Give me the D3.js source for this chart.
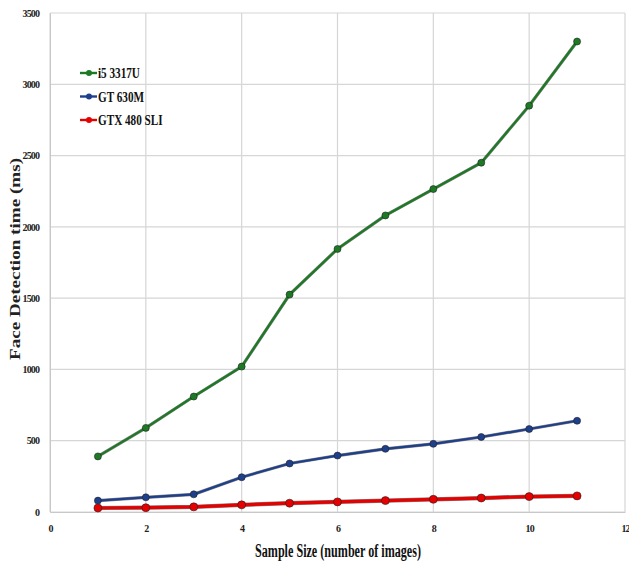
<!DOCTYPE html>
<html>
<head>
<meta charset="utf-8">
<script src="https://cdnjs.cloudflare.com/ajax/libs/d3/7.8.5/d3.min.js"></script>
<style>
  body { margin: 0; background: #fff; }
  text { font-family: "Liberation Serif", "Times New Roman", serif; }
</style>
</head>
<body>
<div id="chart"></div>
<script>
var svgWidth = 629;
var svgHeight = 563;

var margin = { top: 13, right: 4, bottom: 51, left: 50 };
var width = svgWidth - margin.left - margin.right;
var height = svgHeight - margin.top - margin.bottom;

// data
var sampleSizes = [1, 2, 3, 4, 5, 6, 7, 8, 9, 10, 11];
var i5Times = [390, 590, 810, 1020, 1525, 1845, 2080, 2265, 2450, 2850, 3300];
var gt630Times = [80, 103, 124, 244, 340, 396, 443, 478, 526, 582, 640];
var gtx480Times = [28, 30, 36, 50, 62, 71, 80, 89, 98, 108, 113];
var seriesNames = ["i5 3317U", "GT 630M", "GTX 480 SLI"];
var seriesColors = ["#1c7a24", "#1e3f8c", "#e60000"];
var xTicks = [0, 2, 4, 6, 8, 10, 12];
var yTicks = [0, 500, 1000, 1500, 2000, 2500, 3000, 3500];

var series = [i5Times, gt630Times, gtx480Times].map(function(vals, i) {
  return { name: seriesNames[i], color: seriesColors[i],
    points: vals.map(function(v, j) { return { x: sampleSizes[j], y: v }; }) };
});

var svg = d3.select("#chart").append("svg")
  .attr("width", svgWidth)
  .attr("height", svgHeight);

var chartGroup = svg.append("g")
  .attr("transform", `translate(${margin.left}, ${margin.top})`);

var xScale = d3.scaleLinear().domain([0, 12]).range([0, width]);
var yScale = d3.scaleLinear().domain([0, 3500]).range([height, 0]);

// grid
chartGroup.append("g")
  .selectAll("line").data(yTicks).enter().append("line")
  .attr("x1", 0).attr("x2", width)
  .attr("y1", d => yScale(d)).attr("y2", d => yScale(d))
  .attr("stroke", "#d6d6d6").attr("stroke-width", 1.2);

chartGroup.append("g")
  .selectAll("line").data(xTicks).enter().append("line")
  .attr("y1", 0).attr("y2", height)
  .attr("x1", d => xScale(d)).attr("x2", d => xScale(d))
  .attr("stroke", "#d6d6d6").attr("stroke-width", 1.2);

// axes
var bottomAxis = d3.axisBottom(xScale).tickValues(xTicks).tickFormat(d3.format("d")).tickSize(0).tickPadding(13);
var leftAxis = d3.axisLeft(yScale).tickValues(yTicks).tickFormat(d3.format("d")).tickSize(0).tickPadding(11);

var xAxisG = chartGroup.append("g")
  .attr("transform", `translate(0, ${height})`)
  .call(bottomAxis);
var yAxisG = chartGroup.append("g").call(leftAxis);

[xAxisG, yAxisG].forEach(function(g) {
  g.select(".domain").attr("stroke", "#c8c8c8");
  g.selectAll("text")
    .style("font-family", "'Liberation Serif', serif")
    .style("font-weight", "bold")
    .style("font-size", "10px")
    .style("letter-spacing", "-0.9px")
    .attr("fill", "#222");
});

// lines
var line = d3.line().x(d => xScale(d.x)).y(d => yScale(d.y));

series.forEach(function(s, i) {
  var w = i === 2 ? 3.2 : 2.2;
  chartGroup.append("path")
    .datum(s.points)
    .attr("fill", "none")
    .attr("stroke", "#1a1a1a")
    .attr("stroke-width", w + 1)
    .attr("opacity", 0.55)
    .attr("d", line);
  chartGroup.append("path")
    .datum(s.points)
    .attr("fill", "none")
    .attr("stroke", s.color)
    .attr("stroke-width", w)
    .attr("d", line);
  chartGroup.selectAll(null)
    .data(s.points)
    .enter()
    .append("circle")
    .attr("cx", d => xScale(d.x))
    .attr("cy", d => yScale(d.y))
    .attr("r", i === 2 ? 4 : 3.5)
    .attr("fill", s.color)
    .attr("stroke", "#222")
    .attr("stroke-width", 0.6);
});

// legend
var legend = svg.append("g").attr("transform", "translate(80, 73)");
series.forEach(function(s, i) {
  var g = legend.append("g").attr("transform", `translate(0, ${i * 23.5})`);
  g.append("line").attr("x1", 0).attr("x2", 17).attr("y1", 0).attr("y2", 0)
    .attr("stroke", s.color).attr("stroke-width", 2.4);
  g.append("circle").attr("cx", 9).attr("cy", 0).attr("r", 3).attr("fill", s.color);
  g.append("text")
    .attr("transform", "translate(18, 5) scale(0.8, 1)")
    .style("font-size", "14px").style("font-weight", "bold")
    .attr("fill", "#111")
    .text(s.name);
});

// axis titles
svg.append("text")
  .attr("transform", `translate(20, 259) rotate(-90)`)
  .attr("text-anchor", "middle")
  .attr("textLength", 202)
  .attr("lengthAdjust", "spacingAndGlyphs")
  .style("font-size", "15px").style("font-weight", "bold")
  .attr("fill", "#222")
  .text("Face Detection time (ms)");

svg.append("text")
  .attr("x", 338).attr("y", 557)
  .attr("text-anchor", "middle")
  .attr("textLength", 166)
  .attr("lengthAdjust", "spacingAndGlyphs")
  .style("font-size", "18px").style("font-weight", "bold")
  .attr("fill", "#111")
  .text("Sample Size (number of images)");
</script>
</body>
</html>
